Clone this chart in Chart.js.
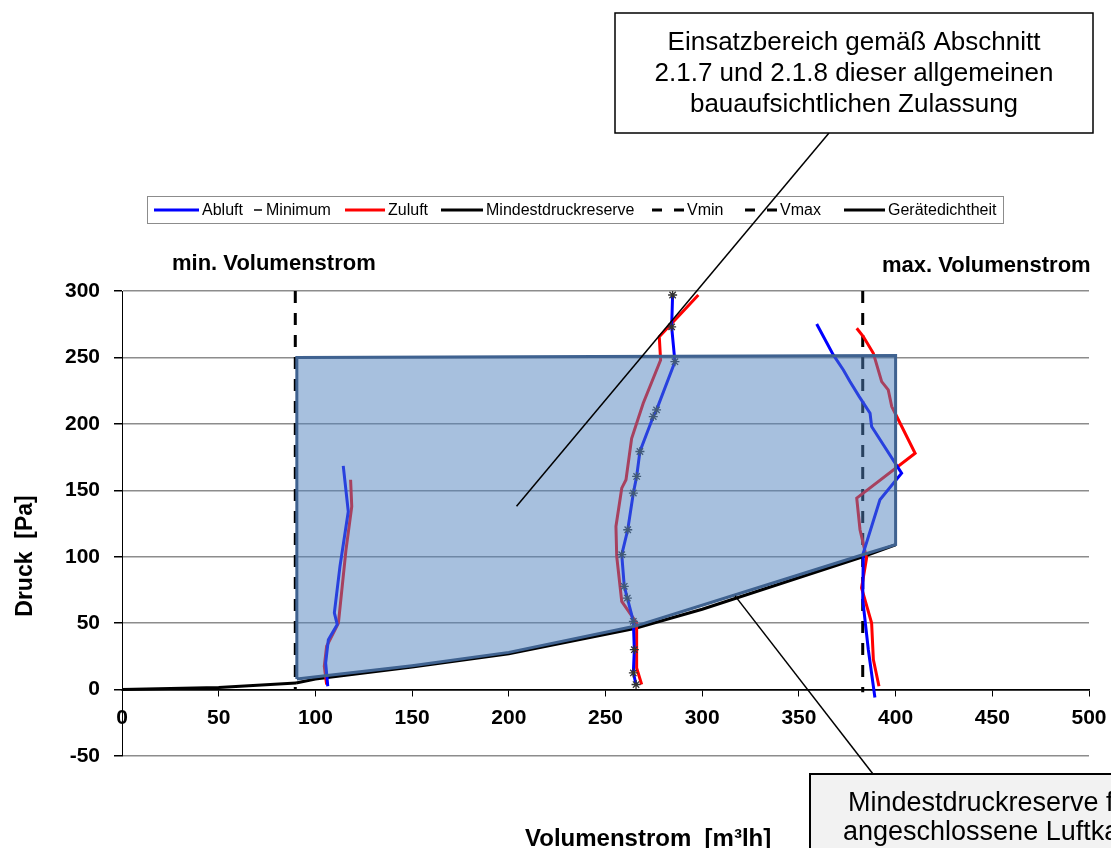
<!DOCTYPE html>
<html>
<head>
<meta charset="utf-8">
<script src="https://cdn.jsdelivr.net/npm/chart.js@4.4.0/dist/chart.umd.min.js"></script>
<style>
    body { margin: 0; background: #ffffff; }
</style>
</head>
<body>
<canvas id="GraficoDruck" width="1111" height="848"></canvas>
<script>
// Volumenstrom (m3/h) und Druck (Pa)
var abluft1Q = [114.4, 117.0, 112.7, 109.8, 111.3, 106.7, 105.3, 106.4];
var abluft1P = [168.4, 134.0, 92.7, 57.7, 48.9, 37.6, 20.0, 2.5];
var abluft2Q = [284.7, 284.2, 285.9, 276.4, 274.7, 267.8, 266.1, 264.4, 261.5, 258.4, 259.7, 261.3, 264.4, 264.9, 264.4, 265.8];
var abluft2P = [297, 273, 246.8, 210.5, 205.5, 179.2, 160.4, 147.9, 120.3, 101.5, 77.7, 68.9, 51.4, 30, 12.5, 3.8];
var abluft3Q = [359.2, 367.8, 373.0, 376.4, 381.2, 386.8, 387.6, 403.1, 391.9, 383.3, 383.0, 385.9, 389.3];
var abluft3P = [275.2, 251.9, 240.6, 231.8, 220.5, 208.0, 198.0, 162.9, 142.9, 102.8, 67.7, 30.0, -6];

var zuluft1Q = [118.2, 118.8, 115.8, 111.9, 105.8, 104.6, 105.8];
var zuluft1P = [157.9, 137.8, 105.0, 50.0, 32.6, 17.5, 3.8];
var zuluft2Q = [298.0, 277.8, 278.5, 269.5, 263.5, 260.6, 258.4, 255.4, 255.8, 258.4, 266.1, 266.1, 268.7];
var zuluft2P = [297, 265.6, 248, 215.5, 189, 157.9, 151.6, 122.8, 100.2, 66.4, 50.1, 16.3, 3.8];
var zuluft3Q = [379.9, 383.3, 388.5, 392.8, 396.2, 398.0, 400.6, 410.1, 379.9, 381.6, 385.0, 382.4, 387.6, 388.5, 391.4];
var zuluft3P = [272, 265.7, 253.1, 231.8, 225.6, 213, 205.5, 177.9, 144.1, 120.3, 99, 76.5, 50.1, 22.6, 2.5];

var reserveQ = [90, 100, 150, 200, 265, 300, 383, 400];
var reserveP = [5, 8, 17, 27, 46, 60.5, 100, 109];
var dichtQ = [0, 50, 90];
var dichtP = [0, 1.5, 5];

var vminQ = [89.6, 89.6];
var vminP = [300, 0];
var vmaxQ = [383, 383];
var vmaxP = [300, -2];

var bereichQ = [90.4, 90.4, 400, 400, 383, 300, 265, 200, 150, 90.4];
var bereichP = [8, 250, 251.5, 109, 101.5, 63.5, 47.6, 28, 18, 8];

var xTicks = [0, 50, 100, 150, 200, 250, 300, 350, 400, 450, 500];
var yTicks = [-50, 0, 50, 100, 150, 200, 250, 300];

var zielEinsatz = [204, 138];
var zielReserve = [317, 70.5];

var fonte = '"Liberation Sans", Arial, sans-serif';

function pontos(qs, ps) {
    return qs.map(function (q, i) { return { x: q, y: ps[i] }; });
}

function linha(label, qs, ps, cor, largura, tracejado) {
    return {
        label: label,
        data: pontos(qs, ps),
        showLine: true,
        borderColor: cor,
        backgroundColor: cor,
        borderWidth: largura,
        borderDash: tracejado || [],
        pointRadius: 0,
        tension: 0,
        order: 2
    };
}

var legenda = [
    { text: 'Abluft', x: 154, len: 45, color: '#0000ff', width: 3, dash: [] },
    { text: 'Minimum', x: 254, len: 8, color: '#000000', width: 1.5, dash: [], gap: 4 },
    { text: 'Zuluft', x: 345, len: 40, color: '#ff0000', width: 3, dash: [] },
    { text: 'Mindestdruckreserve', x: 441, len: 42, color: '#000000', width: 3, dash: [] },
    { text: 'Vmin', x: 652, len: 32, color: '#000000', width: 3, dash: [10, 12] },
    { text: 'Vmax', x: 745, len: 32, color: '#000000', width: 3, dash: [10, 12] },
    { text: 'Gerätedichtheit', x: 844, len: 41, color: '#000000', width: 3, dash: [] }
];

var textos = {
    id: 'textos',
    afterDraw: function (chart) {
        var ctx = chart.ctx;
        var sx = chart.scales.x, sy = chart.scales.y;
        ctx.save();

        // Legende
        ctx.strokeStyle = '#8c8c8c';
        ctx.lineWidth = 1;
        ctx.strokeRect(147.5, 196.5, 856, 27);
        ctx.font = '16px ' + fonte;
        ctx.textBaseline = 'middle';
        ctx.textAlign = 'left';
        legenda.forEach(function (it) {
            ctx.beginPath();
            ctx.setLineDash(it.dash);
            ctx.strokeStyle = it.color;
            ctx.lineWidth = it.width;
            ctx.moveTo(it.x, 210);
            ctx.lineTo(it.x + it.len, 210);
            ctx.stroke();
            ctx.setLineDash([]);
            ctx.fillStyle = '#000';
            ctx.fillText(it.text, it.x + it.len + (it.gap || 3), 211);
        });

        // Achsentitel
        ctx.fillStyle = '#000';
        ctx.textBaseline = 'alphabetic';
        ctx.font = 'bold 22px ' + fonte;
        ctx.fillText('min. Volumenstrom', 172, 270);
        ctx.fillText('max. Volumenstrom', 882, 272);
        ctx.font = 'bold 24px ' + fonte;
        ctx.fillText('Volumenstrom  [m³lh]', 525, 846);
        ctx.save();
        ctx.translate(32, 556);
        ctx.rotate(-Math.PI / 2);
        ctx.textAlign = 'center';
        ctx.font = 'bold 23px ' + fonte;
        ctx.fillText('Druck  [Pa]', 0, 0);
        ctx.restore();

        // Kasten oben
        ctx.strokeStyle = '#000';
        ctx.lineWidth = 1.5;
        ctx.beginPath();
        ctx.moveTo(829, 133);
        ctx.lineTo(sx.getPixelForValue(zielEinsatz[0]), sy.getPixelForValue(zielEinsatz[1]));
        ctx.stroke();
        ctx.fillStyle = '#ffffff';
        ctx.fillRect(615, 13, 478, 120);
        ctx.strokeRect(615, 13, 478, 120);
        ctx.fillStyle = '#000';
        ctx.font = '26px ' + fonte;
        ctx.textAlign = 'center';
        ctx.fillText('Einsatzbereich gemäß Abschnitt', 854, 50);
        ctx.fillText('2.1.7 und 2.1.8 dieser allgemeinen', 854, 81);
        ctx.fillText('bauaufsichtlichen Zulassung', 854, 112);

        // Kasten unten
        ctx.beginPath();
        ctx.moveTo(873, 774);
        ctx.lineTo(sx.getPixelForValue(zielReserve[0]), sy.getPixelForValue(zielReserve[1]));
        ctx.stroke();
        ctx.fillStyle = '#f2f2f2';
        ctx.fillRect(810, 774, 320, 90);
        ctx.lineWidth = 2;
        ctx.strokeRect(810, 774, 320, 90);
        ctx.fillStyle = '#000';
        ctx.textAlign = 'left';
        ctx.font = '27px ' + fonte;
        ctx.fillText('Mindestdruckreserve für', 848, 811);
        ctx.fillText('angeschlossene Luftkanäle', 843, 840);
        ctx.restore();
    }
};

var ctx = document.getElementById("GraficoDruck").getContext("2d");
var grafico = new Chart(ctx, {
    type: 'scatter',
    data: {
        datasets: [
            linha('Abluft', abluft1Q, abluft1P, '#0000ff', 3),
            linha('Abluft', abluft2Q, abluft2P, '#0000ff', 3),
            linha('Abluft', abluft3Q, abluft3P, '#0000ff', 3),
            linha('Zuluft', zuluft1Q, zuluft1P, '#ff0000', 3),
            linha('Zuluft', zuluft2Q, zuluft2P, '#ff0000', 3),
            linha('Zuluft', zuluft3Q, zuluft3P, '#ff0000', 3),
            linha('Mindestdruckreserve', reserveQ, reserveP, '#000000', 3),
            linha('Gerätedichtheit', dichtQ, dichtP, '#000000', 3),
            linha('Vmin', vminQ, vminP, '#000000', 3, [12, 10]),
            linha('Vmax', vmaxQ, vmaxP, '#000000', 3, [12, 10]),
            {
                label: 'Minimum',
                data: pontos(abluft2Q, abluft2P),
                showLine: false,
                pointStyle: 'star',
                pointRadius: 4.5,
                borderColor: '#333333',
                backgroundColor: '#333333',
                borderWidth: 1.3,
                order: 1
            },
            {
                label: 'Einsatzbereich',
                data: pontos(bereichQ, bereichP),
                showLine: true,
                fill: 'shape',
                backgroundColor: 'rgba(79, 129, 189, 0.5)',
                borderColor: '#3f6290',
                borderWidth: 3,
                borderJoinStyle: 'miter',
                pointRadius: 0,
                tension: 0,
                order: 0
            }
        ]
    },
    options: {
        responsive: false,
        animation: false,
        layout: { padding: { left: 0, top: 291, right: 22, bottom: 92 } },
        plugins: {
            legend: { display: false },
            tooltip: { enabled: false }
        },
        scales: {
            x: {
                type: 'linear',
                position: { y: 0 },
                min: 0,
                max: 500,
                afterBuildTicks: function (s) { s.ticks = xTicks.map(function (v) { return { value: v }; }); },
                afterFit: function (s) { s.paddingLeft = 0; s.paddingRight = 0; },
                grid: { drawOnChartArea: false, drawTicks: true, tickLength: 6, color: '#000', tickColor: '#000' },
                border: { color: '#000', width: 1.5 },
                ticks: { color: '#000', padding: 10, maxRotation: 0, font: { family: fonte, size: 21, weight: 'bold' } }
            },
            y: {
                type: 'linear',
                min: -50,
                max: 300,
                afterBuildTicks: function (s) { s.ticks = yTicks.map(function (v) { return { value: v }; }); },
                afterFit: function (s) { s.width = 122; },
                grid: {
                    color: function (c) { return c.tick && c.tick.value === 0 ? '#000' : '#8c8c8c'; },
                    lineWidth: 1.5,
                    tickLength: 8,
                    tickColor: '#000'
                },
                border: { color: '#000', width: 1 },
                ticks: { color: '#000', padding: 14, font: { family: fonte, size: 21, weight: 'bold' } }
            }
        }
    },
    plugins: [textos]
});
</script>
</body>
</html>
